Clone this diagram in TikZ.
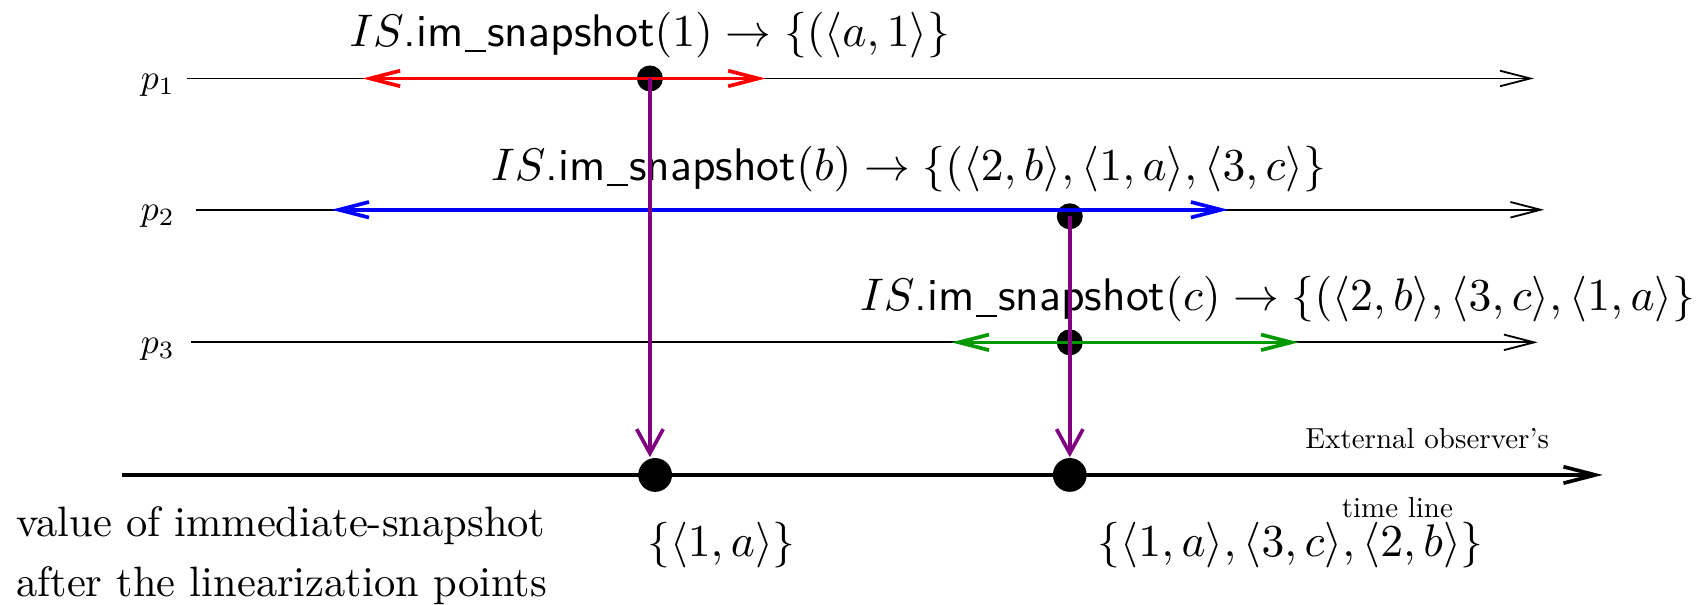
\documentclass[tikz,border=0pt]{standalone}
\usepackage{amsmath}
\usepackage{amssymb}
\usetikzlibrary{arrows, arrows.meta, positioning}

\newcommand{\imsnap}{\textsf{.im\kern.03em\rule[-1.3pt]{4.6pt}{0.4pt}\kern.03em snapshot}}

\begin{document}
\begin{tikzpicture}[
  >={Straight Barb[length=6.6pt, width=3.4pt]},
  procline/.style={->},
  interval/.style={<->, thick},
  linpoint/.style={-{Straight Barb[length=5.3pt, width=5.8pt]}, thick, violet},
  dot/.style={circle, fill=black, inner sep=0pt, minimum size=0.2cm},
  bigdot/.style={circle, fill=black, inner sep=0pt, minimum size=0.26cm},
  small/.style={scale=0.635},
]
\useasboundingbox (0,0) rectangle (13.14,4.654);

% Lineas de los procesos
\node[scale=0.78] (p1) at (1.215,4.0) {$p_1$};
\node[scale=0.78] (p2) at (1.215,2.99) {$p_2$};
\node[scale=0.78] (p3) at (1.215,1.97) {$p_3$};
\coordinate (s1) at (1.44,4.05);  \coordinate (e1) at (11.8,4.05);
\coordinate (s2) at (1.51,3.04);  \coordinate (e2) at (11.88,3.04);
\coordinate (s3) at (1.47,2.02);  \coordinate (e3) at (11.83,2.02);
\draw[procline] (s1) -- (e1);
\draw[procline] (s2) -- (e2);
\draw[procline] (s3) -- (e3);

% Linea del observador externo
\coordinate (so) at (0.94,1.0);
\coordinate (eo) at (12.33,1.0);
\draw[-{Straight Barb[length=7pt, width=3.6pt]}, thick] (so) -- (eo);
\node[small] (ext) at (10.98,1.277) {External observer's};
\node[small] (tl) at (10.75,0.747) {time line};

% Puntos de linealizacion
\node[dot] (d1) at (5.0,4.05) {};
\node[dot] (d2) at (8.23,2.99) {};
\node[dot] (d3) at (8.23,2.02) {};
\node[bigdot] (o1) at (5.04,1.0) {};
\node[bigdot] (o2) at (8.23,1.0) {};

% Intervalos de las operaciones
\coordinate (a1) at (2.79,4.05);  \coordinate (b1) at (5.89,4.05);
\coordinate (a2) at (2.55,3.04);  \coordinate (b2) at (9.45,3.04);
\coordinate (a3) at (7.32,2.02);  \coordinate (b3) at (9.99,2.02);
\draw[interval, red] (a1) -- (b1);
\draw[interval, blue] (a2) -- (b2);
\draw[interval, green!60!black] (a3) -- (b3);

\node (q1) at (5.0,4.385) {$IS$\imsnap$(1)\rightarrow\{(\langle a,1\rangle\}$};
\node (q2) at (6.99,3.355) {$IS$\imsnap$(b)\rightarrow\{(\langle 2,b\rangle,\langle 1,a\rangle,\langle 3,c\rangle\}$};
\node (q3) at (9.83,2.35) {$IS$\imsnap$(c)\rightarrow\{(\langle 2,b\rangle,\langle 3,c\rangle,\langle 1,a\rangle\}$};

% Flechas hacia la linea del tiempo
\draw[linpoint] (d1.center) -- (d1 |- o1.north);
\draw[linpoint] (d2.center) -- (o2.north);

% Valores despues de cada punto
\node (v1) at (5.55,0.462) {$\{\langle 1,a\rangle\}$};
\node (v2) at (9.93,0.462) {$\{\langle 1,a\rangle,\langle 3,c\rangle,\langle 2,b\rangle\}$};
\node[align=left, anchor=west, scale=0.93] (cap) at (0.01,0.38) {value of immediate-snapshot\\[2pt]after the linearization points};

\end{tikzpicture}
\end{document}
